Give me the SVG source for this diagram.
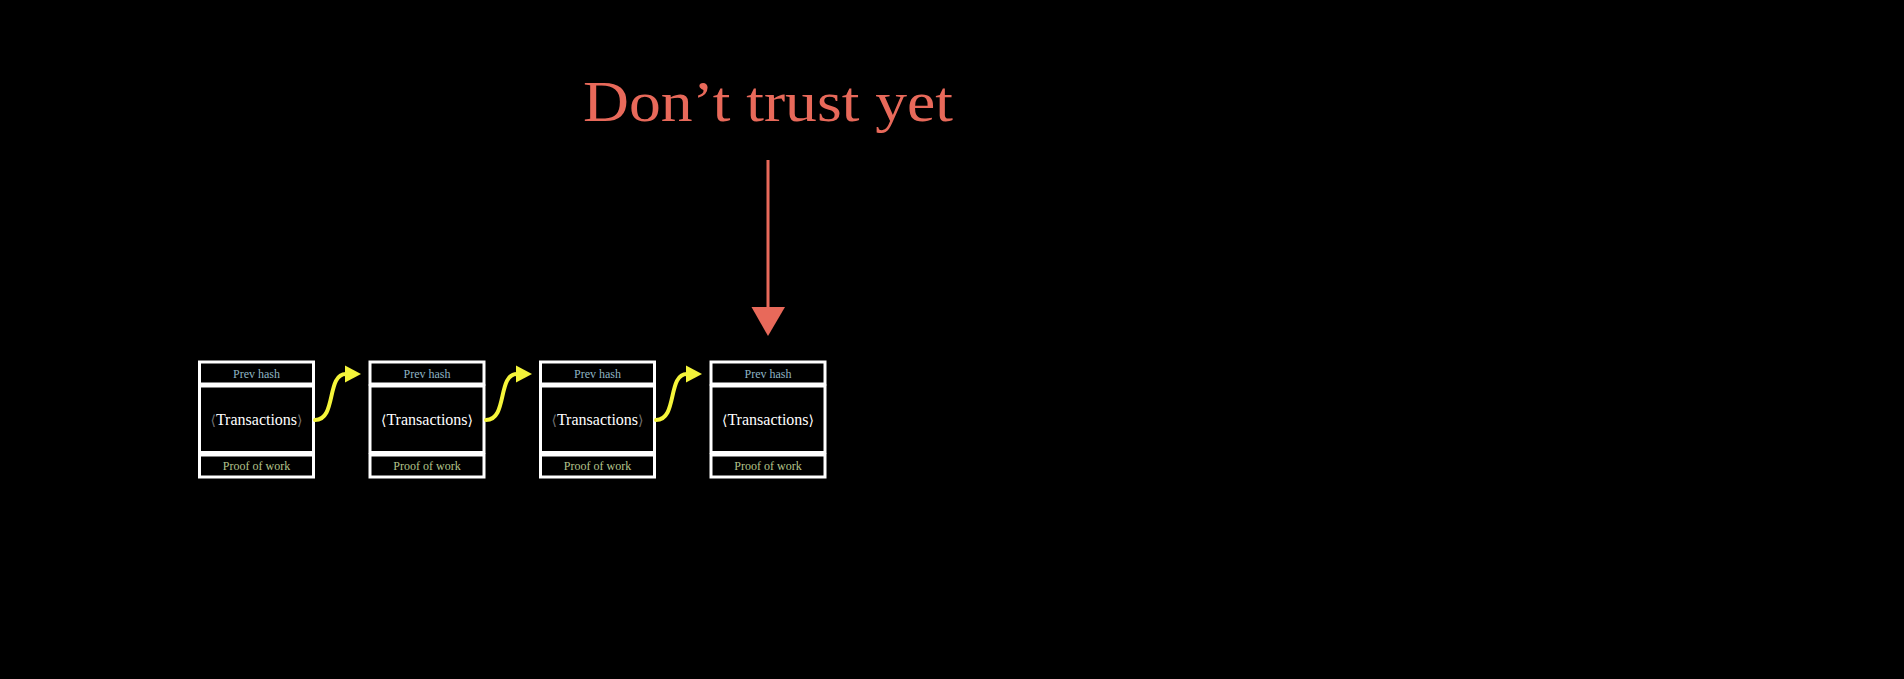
<svg xmlns="http://www.w3.org/2000/svg" width="1904" height="679" viewBox="0 0 1904 679">
<style>
.box{fill:none;stroke:#ffffff;stroke-width:3}
.ph{font-family:"Liberation Serif","DejaVu Serif",serif;font-size:12px;fill:#8fb4c4;text-anchor:middle}
.pw{font-family:"Liberation Serif","DejaVu Serif",serif;font-size:12px;fill:#b4c48c;text-anchor:middle}
.tx{font-family:"Liberation Serif","DejaVu Serif",serif;font-size:16px;fill:#ffffff;text-anchor:middle}
.br{font-family:"DejaVu Serif",serif;font-size:14px}
.dim{fill-opacity:0.45}
.link{fill:none;stroke:#f5f53a;stroke-width:4;stroke-linecap:round}
.title{font-family:"Liberation Serif","DejaVu Serif",serif;font-size:58px;fill:#e8695a;text-anchor:middle}
</style>
<defs>
<marker id="yh" markerWidth="17" markerHeight="18" refX="1" refY="9" orient="auto" markerUnits="userSpaceOnUse">
<path d="M0,0.5 L16,9 L0,17.5 Z" fill="#f5f53a"/>
</marker>
</defs>
<rect width="1904" height="679" fill="#000"/>
<g id="title">
<text class="title" x="768" y="121" textLength="370" lengthAdjust="spacingAndGlyphs">Don’t trust yet</text>
</g>
<g id="block1">
<rect class="box" x="199.5" y="362" width="114" height="22"/>
<rect class="box" x="199.5" y="386" width="114" height="66.5"/>
<rect class="box" x="199.5" y="455" width="114" height="22"/>
<text class="ph" x="256.5" y="378">Prev hash</text>
<text class="tx" x="256.5" y="425"><tspan class="br dim">⟨</tspan>Transactions<tspan class="br dim">⟩</tspan></text>
<text class="pw" x="256.5" y="470">Proof of work</text>
</g>
<g id="block2">
<rect class="box" x="370" y="362" width="114" height="22"/>
<rect class="box" x="370" y="386" width="114" height="66.5"/>
<rect class="box" x="370" y="455" width="114" height="22"/>
<text class="ph" x="427" y="378">Prev hash</text>
<text class="tx" x="427" y="425"><tspan class="br">⟨</tspan>Transactions<tspan class="br">⟩</tspan></text>
<text class="pw" x="427" y="470">Proof of work</text>
</g>
<g id="block3">
<rect class="box" x="540.5" y="362" width="114" height="22"/>
<rect class="box" x="540.5" y="386" width="114" height="66.5"/>
<rect class="box" x="540.5" y="455" width="114" height="22"/>
<text class="ph" x="597.5" y="378">Prev hash</text>
<text class="tx" x="597.5" y="425"><tspan class="br dim">⟨</tspan>Transactions<tspan class="br dim">⟩</tspan></text>
<text class="pw" x="597.5" y="470">Proof of work</text>
</g>
<g id="block4">
<rect class="box" x="711" y="362" width="114" height="22"/>
<rect class="box" x="711" y="386" width="114" height="66.5"/>
<rect class="box" x="711" y="455" width="114" height="22"/>
<text class="ph" x="768" y="378">Prev hash</text>
<text class="tx" x="768" y="425"><tspan class="br">⟨</tspan>Transactions<tspan class="br">⟩</tspan></text>
<text class="pw" x="768" y="470">Proof of work</text>
</g>
<g id="connectors">
<path class="link" d="M315,420 C337,420 326,374 346,374" marker-end="url(#yh)"/>
<path class="link" d="M486,420 C508,420 497,374 517,374" marker-end="url(#yh)"/>
<path class="link" d="M656,420 C678,420 667,374 687,374" marker-end="url(#yh)"/>
<line x1="768" y1="160" x2="768" y2="310" stroke="#e8695a" stroke-width="3"/>
<path d="M751.5,307 L785,307 L768,336 Z" fill="#e8695a"/>
</g>
</svg>
